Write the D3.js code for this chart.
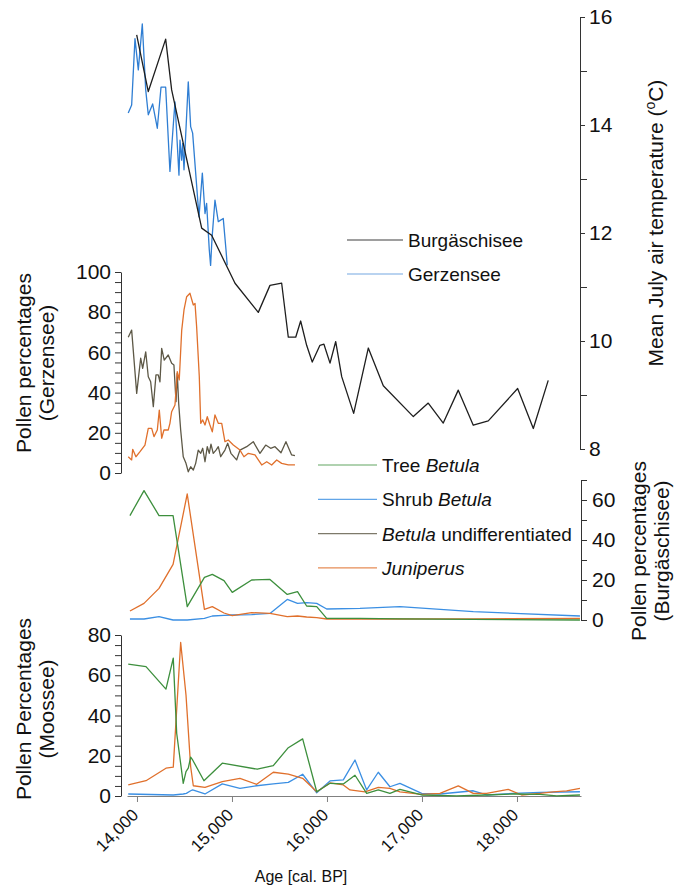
<!DOCTYPE html>
<html>
<head>
<meta charset="utf-8">
<script src="https://cdn.jsdelivr.net/npm/d3@7"></script>
<style>
  body { margin: 0; background: #fff; }
  svg { font-family: "Liberation Sans", Arial, sans-serif; }
</style>
</head>
<body>
<svg id="chart" width="686" height="888"></svg>
<script>
// mean July air temperature, Burgäschisee (black)
const tempBYears = [13997,14119,14302,14365,14681,14786,15032,15277,15400,15523,15593,15671,15723,15786,15845,15926,15968,16032,16092,16155,16281,16435,16593,16909,17066,17224,17382,17540,17698,18007,18172,18329];
const tempB = [15.67,14.62,15.59,14.65,12.09,11.96,11.07,10.53,11.03,11.07,10.07,10.07,10.37,9.92,9.61,9.92,9.94,9.59,9.99,9.34,8.66,9.87,9.17,8.60,8.85,8.48,9.09,8.44,8.52,9.12,8.38,9.27];

// mean July air temperature, Gerzensee (blue)
const tempGYears = [13908,13944,13979,14014,14056,14092,14119,14165,14214,14253,14302,14347,14400,14442,14453,14470,14481,14495,14540,14565,14586,14653,14688,14716,14733,14761,14775,14790,14821,14856,14908,14937,14950];
const tempG = [14.22,14.37,15.6,15.02,15.87,14.65,14.19,14.39,13.94,14.70,14.70,13.14,14.43,13.07,13.72,13.35,13.66,13.17,14.80,13.97,13.85,12.30,13.11,12.36,12.55,11.69,11.40,11.9,12.61,12.21,12.27,11.69,11.4];

// Gerzensee pollen
const gzBetYears = [13908,13944,13997,14039,14060,14092,14119,14144,14172,14200,14224,14242,14260,14287,14329,14365,14389,14411,14424,14439,14460,14487,14516,14540,14565,14593,14618,14645,14671,14692,14716,14740,14761,14779,14803,14832,14856,14881,14926,14955,14989,15049,15084,15155,15224,15295,15355,15407,15453,15516,15568,15628,15663];
const gzBet = [67.5,71.1,39.6,57.1,52.1,60.3,47.9,45.4,33.0,48.8,48.8,45.4,62.0,56.2,58.7,54.6,53.7,35.5,49.6,34.7,21.4,8.1,4.8,0.6,3.1,1.5,4.8,11.4,9.8,12.3,5.6,13.1,9.8,14.4,9.8,11.4,13.1,8.1,11.4,14.8,9.8,6.5,11.4,13.1,15.6,9.8,13.9,12.3,13.1,10.1,15.6,9.0,8.6];
const gzJunYears = [13908,13944,13955,13989,14032,14084,14119,14155,14179,14214,14235,14260,14284,14329,14347,14365,14400,14424,14445,14471,14495,14523,14558,14593,14611,14628,14656,14671,14692,14716,14740,14768,14793,14821,14856,14892,14926,14961,15014,15084,15126,15172,15242,15313,15366,15418,15471,15523,15593,15663];
const gzJun = [8.1,6.5,11.8,8.1,10.6,13.9,22.2,22.2,18.1,21.4,31.3,17.3,21.4,21.4,24.7,30.5,33.8,50.4,46.3,71.1,81.1,87.7,89.4,83.6,84.4,72.8,47.9,24.7,26.4,23.9,28.0,23.9,20.5,28.9,24.7,24.7,15.6,16.4,13.9,11.4,8.1,9.8,9.0,4.0,5.6,4.0,6.5,4.8,4.0,4.0];

// Burgäschisee pollen
const bgYears = [13926,14074,14232,14380,14529,14710,14793,14916,15003,15207,15400,15582,15690,15786,15892,15997,16347,16768,17540,18663];
const bgTree = [52.2,64.7,52.2,52.2,6.7,21.3,22.8,19.7,13.8,20,20.3,12.8,14.2,7,6.7,0.8,0.8,0.6,0.3,0];
const bgJun = [4.5,8.3,15.8,27.8,63,5.3,6.7,3.5,2.2,3.7,3.3,1.7,2,1.5,1.2,0.5,0.5,0.5,0.6,0.8];
const bgShrub = [0.5,0.5,1.7,0,0,0.8,2,2.3,2.5,2.7,3.3,10.3,8.3,8.7,8.3,5.5,5.8,6.7,4.2,2];

// Moossee pollen
const msTreeYears = [13908,14095,14305,14382,14418,14487,14516,14540,14565,14586,14705,14898,15266,15435,15593,15744,15892,16032,16172,16295,16418,16540,16663,16768,16997,17365,17681,17961,18242,18418,18663];
const msTree = [65.5,64.3,53.1,68.5,31.2,6.3,12.1,13.8,19.3,17.9,7.6,16.3,13.3,15.1,24.0,28.4,2.1,6.3,6,10.3,1.3,3,1.3,3.3,0.5,0.1,0.5,1,0.8,0.1,0.5];
const msJunYears = [13908,14095,14305,14382,14460,14516,14565,14593,14716,14898,15084,15260,15435,15593,15744,15892,16032,16172,16242,16400,16540,16663,16768,16997,17189,17382,17540,17681,17908,18049,18242,18382,18523,18663];
const msJun = [5.5,7.6,13.8,14.3,76.3,50.2,14.6,5.1,4.3,7.1,8.8,5.8,11.8,10.9,8.8,2.1,6.5,5.5,3,2.1,4.3,3.8,2.1,0.8,1.3,5,1.3,1.3,3.3,0.5,1.3,2.1,2.5,3.8];
const msShrubYears = [13908,14382,14487,14520,14565,14586,14716,14898,15084,15260,15435,15593,15744,15892,16032,16172,16295,16418,16540,16663,16768,16997,17189,17540,17681,17961,18242,18663];
const msShrub = [1,0.5,1,1.3,2.6,3,1,6,3.8,5.1,6,6.8,10.8,1.6,7.5,8,17.9,3,11.8,4.6,6.3,1.3,1,2.6,0.5,1.3,1.8,2.1];

const ageTicks = [14000,15000,16000,17000,18000];
const tempTicks = [8,10,12,14,16];
const tempMinor = [9,11,13,15];
const gzTicks = [0,20,40,60,80,100];
const bgTicks = [0,20,40,60];
const bgMinor = [10,30,50,70];
const msTicks = [0,20,40,60,80];

const tempLegend = [
  {label: "Burgäschisee", color: "#1e1e1e"},
  {label: "Gerzensee", color: "#3a83d6"}
];
const pollenLegend = [
  {pre: "Tree ", ital: "Betula", post: "", color: "#3d8f3d"},
  {pre: "Shrub ", ital: "Betula", post: "", color: "#3b8fe3"},
  {pre: "", ital: "Betula", post: " undifferentiated", color: "#5d5846"},
  {pre: "", ital: "Juniperus", post: "", color: "#e0702c"}
];

const cBlack = "#1e1e1e", cTempBlue = "#2f7ed3", cGreen = "#3d8f3d", cBlue = "#3b8fe3", cBrown = "#5d5846", cOrange = "#e0702c";

const svg = d3.select("#chart");
svg.append("rect").attr("width", 686).attr("height", 888).attr("fill", "#fff");

const x = d3.scaleLinear().domain([13895, 18674]).range([127, 581]);
const yTemp = d3.scaleLinear().domain([8, 16]).range([449, 17]);
const yGz = d3.scaleLinear().domain([0, 100]).range([473, 272]);
const yBg = d3.scaleLinear().domain([0, 70]).range([620, 480]);
const yMs = d3.scaleLinear().domain([0, 80]).range([796, 635]);

function styleAxis(g, size, col) {
  g.select(".domain").attr("stroke", col || "#333").attr("stroke-width", 1);
  g.selectAll(".tick line").attr("stroke", col || "#333");
  g.selectAll(".tick text").attr("font-size", size).attr("fill", "#111")
    .attr("font-family", '"Liberation Sans", Arial, sans-serif');
}

function minorTicks(axisFn, scale, vals, tx, len) {
  const g = svg.append("g").attr("transform", `translate(${tx},0)`)
    .call(axisFn(scale).tickValues(vals).tickSize(len).tickSizeOuter(0).tickFormat(""));
  g.select(".domain").remove();
  g.selectAll(".tick line").attr("stroke", "#333");
}

// temperature axis (right, top)
const gT = svg.append("g").attr("transform", "translate(580,0)")
  .call(d3.axisRight(yTemp).tickValues(tempTicks).tickSize(5).tickPadding(4).tickSizeOuter(0));
styleAxis(gT, 21);
minorTicks(d3.axisRight, yTemp, tempMinor, 580, 7);

// Gerzensee axis (left)
const gG = svg.append("g").attr("transform", "translate(121,0)")
  .call(d3.axisLeft(yGz).tickValues(gzTicks).tickSize(6).tickPadding(4).tickSizeOuter(0));
styleAxis(gG, 21);
minorTicks(d3.axisLeft, yGz, d3.range(5, 100, 5).filter(v => v % 20), 121, 6);

// Burgäschisee axis (right)
const gB = svg.append("g").attr("transform", "translate(581,0)")
  .call(d3.axisRight(yBg).tickValues(bgTicks).tickSize(6).tickPadding(5).tickSizeOuter(0));
styleAxis(gB, 21);
minorTicks(d3.axisRight, yBg, bgMinor, 581, 6);

// Moossee axis (left)
const gM = svg.append("g").attr("transform", "translate(121,0)")
  .call(d3.axisLeft(yMs).tickValues(msTicks).tickSize(6).tickPadding(4).tickSizeOuter(0));
styleAxis(gM, 21);
minorTicks(d3.axisLeft, yMs, d3.range(5, 80, 5).filter(v => v % 20), 121, 6);

// age axis (bottom)
const gX = svg.append("g").attr("transform", "translate(0,796)")
  .call(d3.axisBottom(x).tickValues(ageTicks).tickSize(6).tickSizeOuter(0).tickFormat(d3.format(",")));
styleAxis(gX, 17, "#808080");
gX.selectAll(".tick text")
  .attr("x", 0).attr("y", 0).attr("dy", 0)
  .attr("text-anchor", "end")
  .attr("transform", "translate(2,20) rotate(-45)");

// lines
function drawLine(years, vals, yScale, color, w) {
  svg.append("path")
    .datum(d3.zip(years, vals))
    .attr("fill", "none")
    .attr("stroke", color)
    .attr("stroke-width", w || 1.3)
    .attr("stroke-linejoin", "round")
    .attr("d", d3.line().x(d => x(d[0])).y(d => yScale(d[1])));
}

drawLine(gzBetYears, gzBet, yGz, cBrown);
drawLine(gzJunYears, gzJun, yGz, cOrange);

drawLine(bgYears, bgShrub, yBg, cBlue);
drawLine(bgYears, bgJun, yBg, cOrange);
drawLine(bgYears, bgTree, yBg, cGreen);

drawLine(msShrubYears, msShrub, yMs, cBlue);
drawLine(msJunYears, msJun, yMs, cOrange);
drawLine(msTreeYears, msTree, yMs, cGreen);

drawLine(tempGYears, tempG, yTemp, cTempBlue);
drawLine(tempBYears, tempB, yTemp, cBlack);

// legends
const lg1 = svg.append("g");
tempLegend.forEach((d, i) => {
  const yy = 240 + i * 34;
  lg1.append("line").attr("x1", 347).attr("x2", 403).attr("y1", yy).attr("y2", yy)
    .attr("stroke", d.color).attr("stroke-width", 1.2).attr("opacity", i ? 0.7 : 0.85);
  lg1.append("text").attr("x", 408).attr("y", yy + 7).attr("font-size", 19).attr("fill", "#111").text(d.label);
});

const lg2 = svg.append("g");
pollenLegend.forEach((d, i) => {
  const yy = 465 + i * 34.3;
  lg2.append("line").attr("x1", 318).attr("x2", 377).attr("y1", yy).attr("y2", yy)
    .attr("stroke", d.color).attr("stroke-width", 1.2).attr("opacity", 0.8);
  const t = lg2.append("text").attr("x", 382).attr("y", yy + 7).attr("font-size", 19).attr("fill", "#111");
  if (d.pre) t.append("tspan").text(d.pre);
  t.append("tspan").attr("font-style", "italic").text(d.ital);
  if (d.post) t.append("tspan").text(d.post);
});

// axis titles
function vTitle(lines, cx, cy, rot, gap) {
  const t = svg.append("text")
    .attr("transform", `translate(${cx},${cy}) rotate(${rot})`)
    .attr("text-anchor", "middle").attr("font-size", 21).attr("fill", "#111");
  lines.forEach((l, i) => t.append("tspan").attr("x", 0).attr("dy", i ? gap : 0).text(l));
  return t;
}
vTitle(["Pollen percentages", "(Gerzensee)"], 31, 363, -90, 23);
vTitle(["Pollen Percentages", "(Moossee)"], 31, 709, -90, 23);
vTitle(["Pollen percentages", "(Burgäschisee)"], 646, 551, -90, 23);

const tt = svg.append("text")
  .attr("transform", "translate(663,223) rotate(-90)")
  .attr("text-anchor", "middle").attr("font-size", 21).attr("fill", "#111");
tt.append("tspan").text("Mean July air temperature (");
tt.append("tspan").attr("font-size", 14).attr("dy", -8).text("o");
tt.append("tspan").attr("dy", 8).text("C)");

svg.append("text").attr("x", 301).attr("y", 882).attr("text-anchor", "middle")
  .attr("font-size", 16).attr("fill", "#111").text("Age [cal. BP]");
</script>
</body>
</html>
